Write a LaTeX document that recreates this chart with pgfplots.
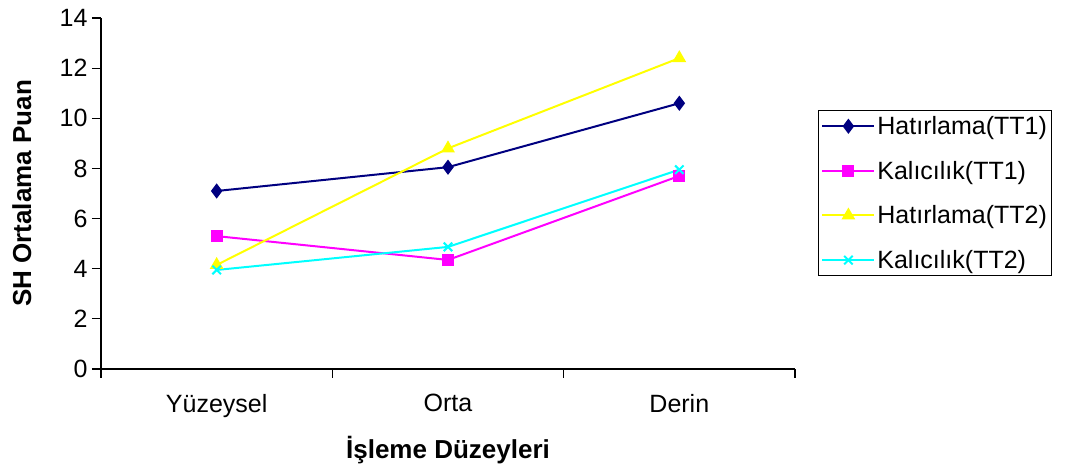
\documentclass[border=0pt]{standalone}
\usepackage{pgfplots}
\pgfplotsset{compat=1.18}
\usepackage{fontspec}
\setmainfont{Liberation Sans}
\definecolor{navyc}{RGB}{0,0,128}
\definecolor{magc}{RGB}{255,0,255}
\definecolor{yelc}{RGB}{255,255,0}
\definecolor{cyac}{RGB}{0,255,255}
\begin{document}
\begin{tikzpicture}
\useasboundingbox (-101pt,-104pt) rectangle (965pt,369pt);
\begin{axis}[
  scale only axis,
  width=694pt, height=351pt,
  xmin=-0.5, xmax=2.5, ymin=0, ymax=14,
  axis x line*=bottom, axis y line*=left,
  axis line style={-, line width=1.2pt},
  xtick={0,1,2},
  xticklabels={Yüzeysel,Orta,Derin},
  major x tick style={draw=none},
  minor xtick={-0.5,0.5,1.5,2.5},
  minor tick length=9pt,
  minor x tick style={line width=1.2pt, black},
  ytick={0,2,...,14},
  major tick length=9pt,
  tick align=outside,
  y tick style={line width=1.2pt, black},
  /pgf/number format/assume math mode=true,
  tick label style={font=\fontsize{25}{29}\selectfont},
  xticklabel style={yshift=-13pt},
  yticklabel style={xshift=-1pt},
  xlabel={İşleme Düzeyleri},
  ylabel={SH Ortalama Puan},
  label style={font=\bfseries\fontsize{26}{30}\selectfont},
  xlabel style={at={(axis description cs:0.5,-0.231)}, anchor=center},
  ylabel style={at={(axis description cs:-0.114,0.5)}, anchor=center, rotate=0},
  legend style={at={(axis description cs:1.033,0.738)}, anchor=north west,
    draw=black, line width=1pt, font=\fontsize{25}{29}\selectfont,
    inner xsep=3pt, inner ysep=4pt, row sep=21pt,
    nodes={inner xsep=2pt}},
  legend cell align=left,
  legend image code/.code={%
    \draw[mark repeat=2,mark phase=2] plot coordinates {(0pt,0pt) (26pt,0pt) (52pt,0pt)};},
  clip=false,
]
\addplot[navyc, line width=2pt, mark=diamond*, mark size=6pt, mark options={solid}]
  coordinates {(0,7.1) (1,8.05) (2,10.6)};
\addlegendentry{Hatırlama(TT1)}
\addplot[magc, line width=2pt, mark=square*, mark size=5pt]
  coordinates {(0,5.3) (1,4.35) (2,7.7)};
\addlegendentry{Kalıcılık(TT1)}
\addplot[yelc, line width=2pt, mark=triangle*, mark size=6pt]
  coordinates {(0,4.15) (1,8.8) (2,12.4)};
\addlegendentry{Hatırlama(TT2)}
\addplot[cyac, line width=2pt, mark=x, mark size=6pt]
  coordinates {(0,3.95) (1,4.87) (2,7.95)};
\addlegendentry{Kalıcılık(TT2)}
\end{axis}
\end{tikzpicture}
\end{document}
